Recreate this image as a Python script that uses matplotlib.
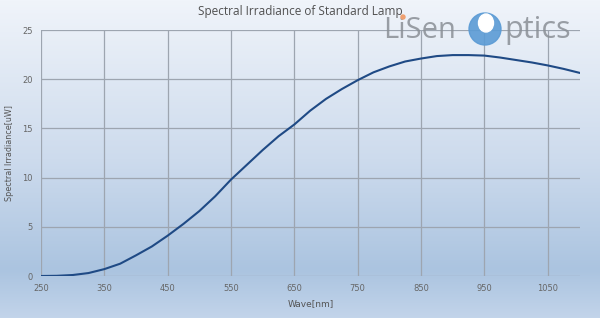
import numpy as np
import matplotlib.pyplot as plt
from matplotlib.patches import Circle, Ellipse

# wavelength (nm) and irradiance (uW)
wave = [250, 275, 300, 325, 350, 375, 400, 425, 450, 475, 500, 525, 550, 575,
        600, 625, 650, 675, 700, 725, 750, 775, 800, 825, 850, 875, 900, 925,
        950, 975, 1000, 1025, 1050, 1075, 1100]
irr = [0.0, 0.02, 0.1, 0.3, 0.7, 1.25, 2.1, 3.0, 4.1, 5.3, 6.6, 8.1, 9.8, 11.3,
       12.8, 14.2, 15.4, 16.8, 18.0, 19.0, 19.9, 20.7, 21.3, 21.8, 22.1, 22.35,
       22.45, 22.45, 22.4, 22.2, 21.95, 21.7, 21.4, 21.05, 20.65]
xticks = [250, 350, 450, 550, 650, 750, 850, 950, 1050]
yticks = [0, 5, 10, 15, 20, 25]

fig = plt.figure(figsize=(6, 3.18), dpi=100)

# background gradient
bg = fig.add_axes([0, 0, 1, 1], zorder=-10)
stops_y = [0.0, 0.5, 0.85, 1.0]
top = np.array([0xf0, 0xf4, 0xfa]) / 255
mid = np.array([0xcd, 0xdb, 0xed]) / 255
low = np.array([0xab, 0xc4, 0xe0]) / 255
bot = np.array([0xc2, 0xd4, 0xea]) / 255
t = np.linspace(0, 1, 318)
cols = np.array([np.interp(t, stops_y, [c[i] for c in (top, mid, low, bot)]) for i in range(3)]).T
bg.imshow(cols[:, None, :], aspect="auto", extent=[0, 1, 0, 1])
bg.axis("off")

ax = fig.add_axes([41 / 600, 42 / 318, 539 / 600, 246 / 318])
ax.patch.set_alpha(0)
ax.plot(wave, irr, color="#1f4a85", lw=1.5)
ax.set_xlim(250, 1101)
ax.set_ylim(0, 25)
ax.set_xticks(xticks)
ax.set_yticks(yticks)
ax.grid(True, color="#9da5b0", lw=0.9)
for s in ax.spines.values():
    s.set_visible(False)
ax.tick_params(length=0, labelsize=6, labelcolor="#666666", pad=6)
ax.set_xlabel("Wave[nm]", fontsize=6.5, color="#555555", labelpad=4)
ax.set_ylabel("Spectral Irradiance[uW]", fontsize=5.8, color="#555555", labelpad=6)

fig.text(0.5, 0.965, "Spectral Irradiance of Standard Lamp", ha="center", va="center",
         fontsize=8.5, color="#505050", family="Open Sans")

# logo
fig.text(383 / 600, 1 - 30 / 318, "LiSen", ha="left", va="center", fontsize=21,
         color="#8a8f96", family="Open Sans", alpha=0.85)
fig.text(504 / 600, 1 - 30 / 318, "ptics", ha="left", va="center", fontsize=22,
         color="#8a8f96", family="Open Sans", alpha=0.85)
lg = fig.add_axes([0, 0, 1, 1], zorder=5)
lg.set_xlim(0, 600)
lg.set_ylim(318, 0)
lg.axis("off")
lg.add_patch(Circle((485, 29), 16, color="#5b9bd5", alpha=0.9))
lg.add_patch(Ellipse((486, 23), 15, 18, color="white"))
lg.add_patch(Circle((403, 17), 2, color="#f0a070"))

fig.savefig("out.png", dpi=100)
